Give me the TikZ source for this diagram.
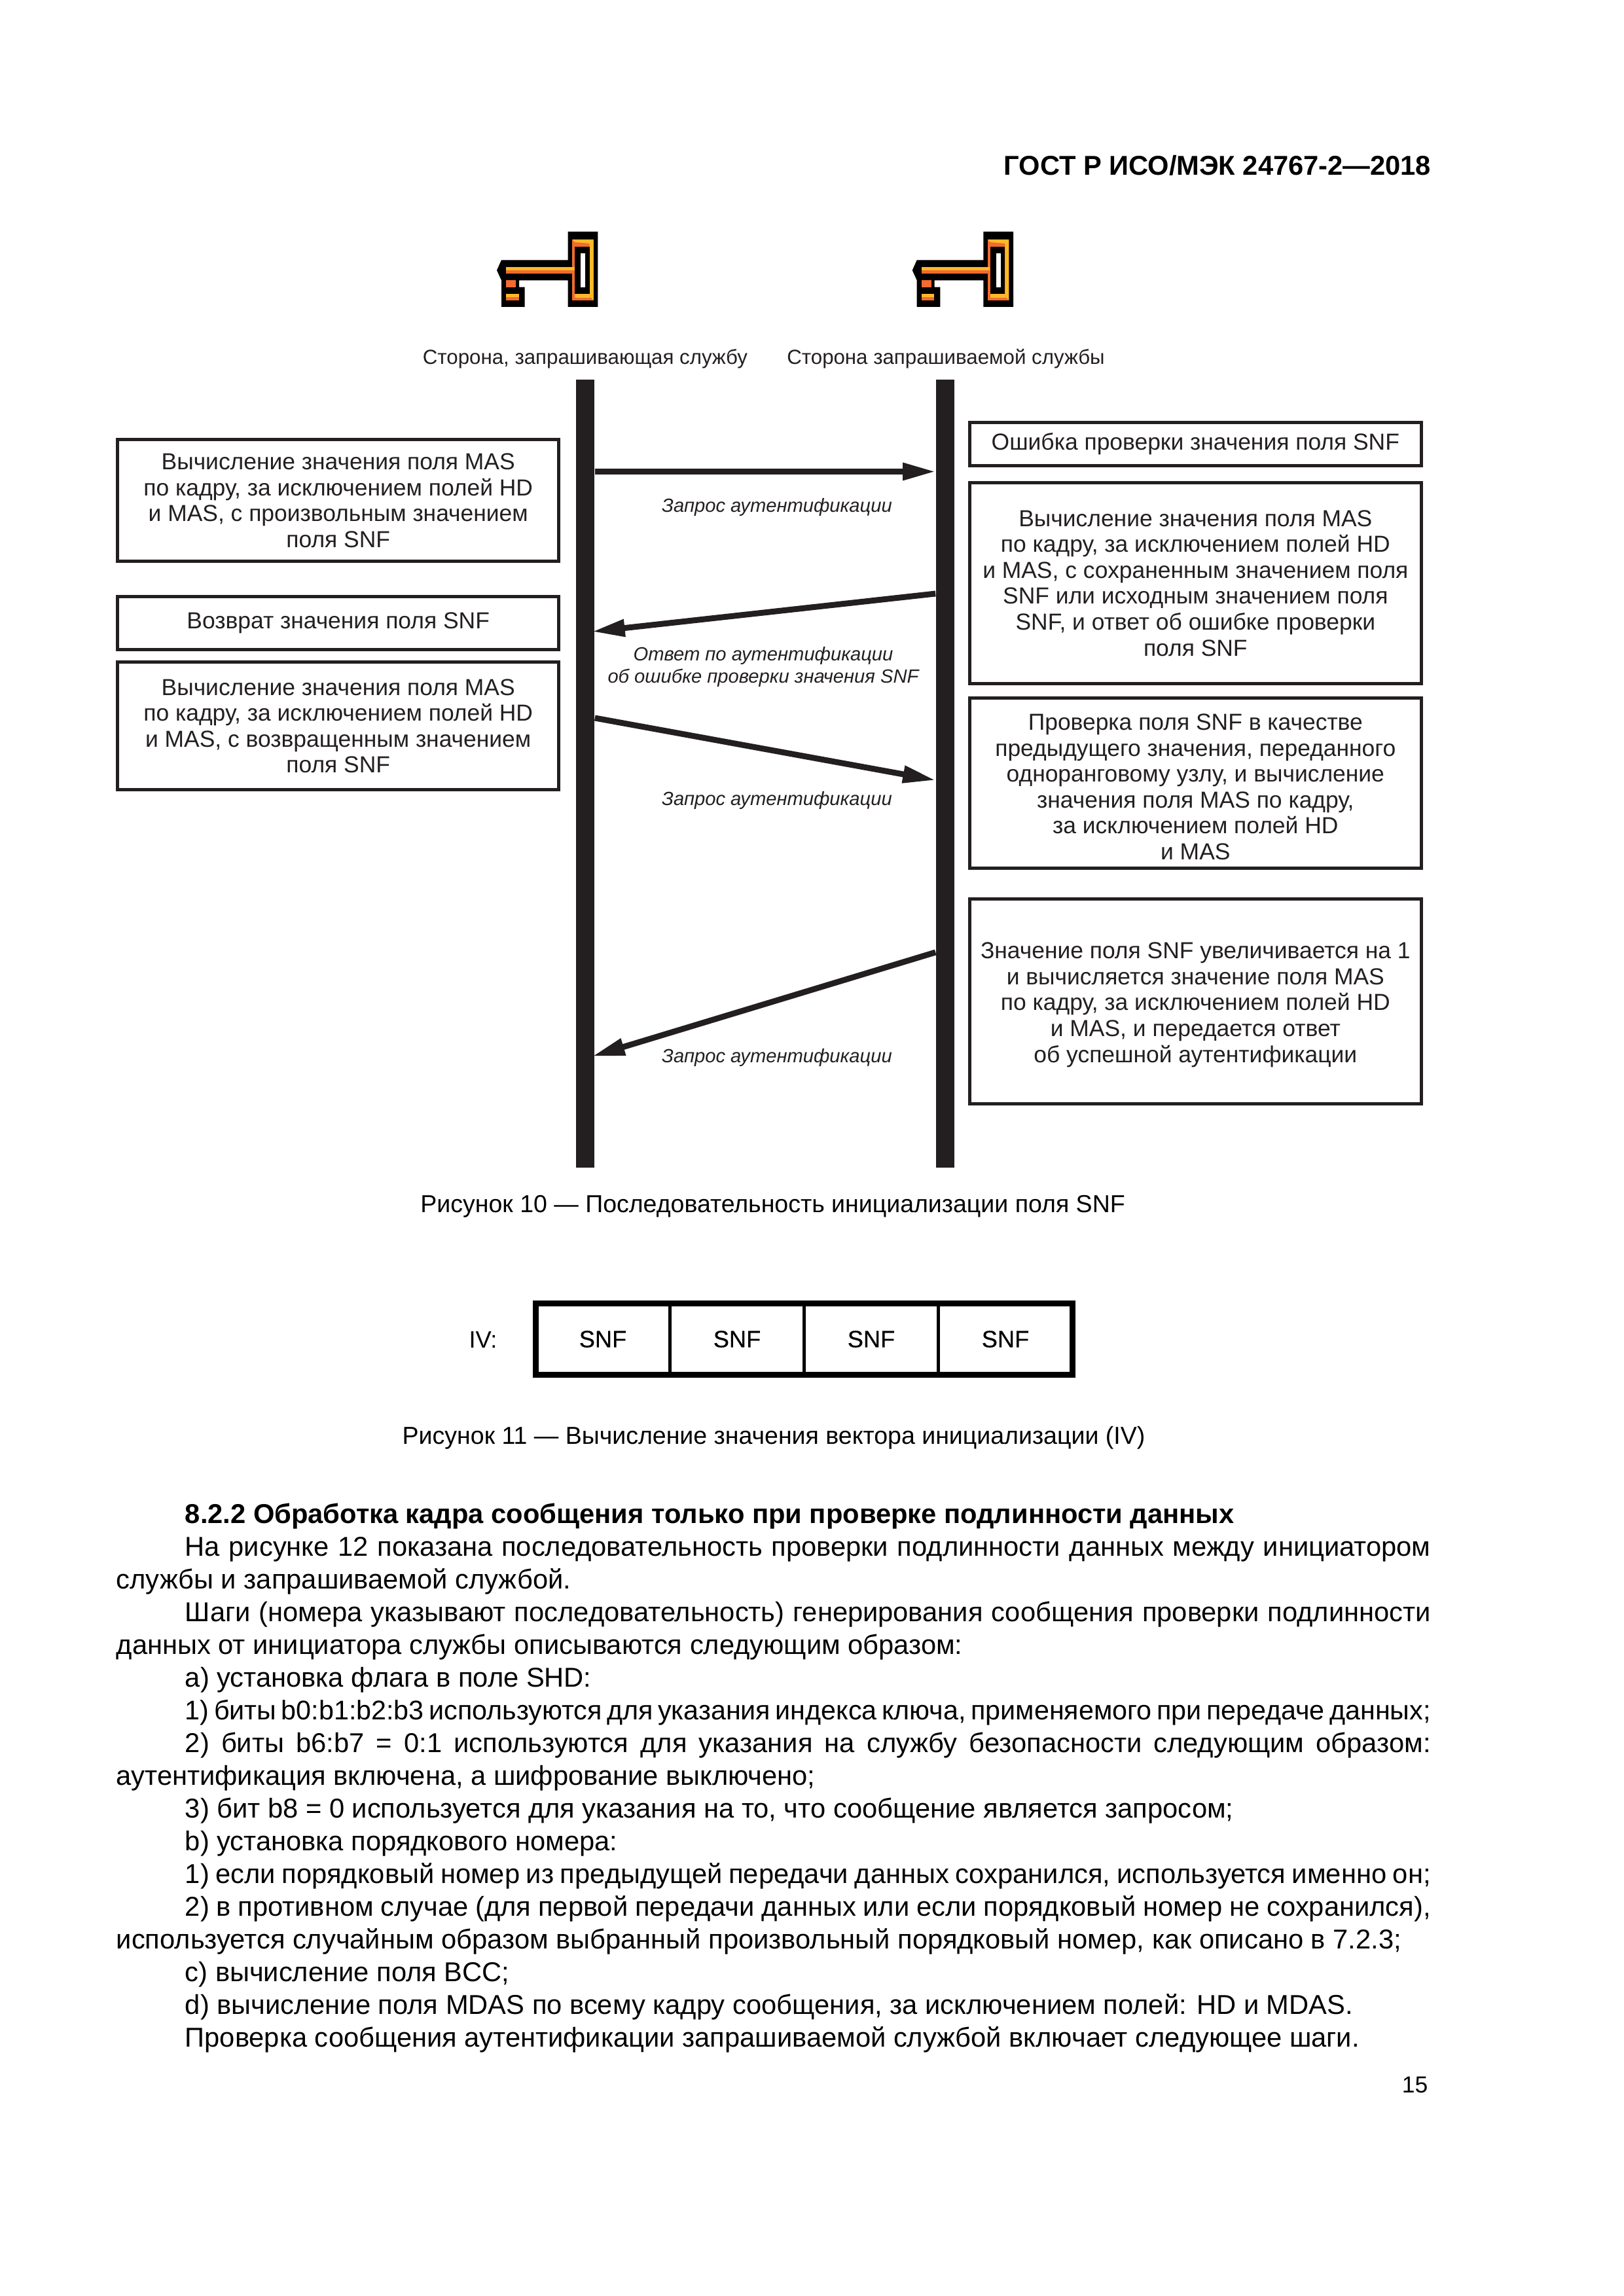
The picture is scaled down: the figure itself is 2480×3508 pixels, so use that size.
\documentclass[tikz,border=0pt]{standalone}
\usepackage{fontspec}
\setmainfont{Liberation Sans}
\newfontfamily\snffont[FakeBold=0.4]{Liberation Sans}
\usetikzlibrary{arrows.meta, positioning, calc}
\definecolor{inkdark}{HTML}{231F20}
\definecolor{keyorange}{HTML}{F26B2F}
\definecolor{keyyellow}{HTML}{FDB927}

\begin{document}
\begin{tikzpicture}[
    x=0.24pt,
    y=-0.24pt,
    stepbox/.style={
        rectangle,
        draw=inkdark,
        line width=1.2pt,
        align=center,
        inner sep=0pt,
        text=inkdark,
        font=\fontsize{8.5}{9.5}\selectfont,
    },
    leftbox/.style={stepbox, minimum width=161.9pt},
    rightbox/.style={stepbox, minimum width=165.7pt},
    lifeline/.style={
        rectangle,
        fill=inkdark,
        inner sep=0pt,
        minimum width=6.7pt,
        minimum height=288.8pt,
    },
    msgarrow/.style={
        inkdark,
        line width=2.15pt,
        -{Triangle[length=12pt, width=6pt]},
    },
    msglabel/.style={
        align=center,
        inner sep=0pt,
        text=inkdark,
        font=\fontsize{7}{8}\selectfont\itshape,
    },
    sidelabel/.style={inner sep=0pt, text=inkdark, font=\fontsize{7.5}{10}\selectfont},
    caption/.style={inner sep=0pt, font=\fontsize{9}{12}\selectfont},
    snfcell/.style={
        rectangle,
        draw=black,
        line width=1.1pt,
        inner sep=0pt,
        outer sep=0pt,
        minimum width=49.2pt,
        minimum height=26.3pt,
        font=\fontsize{8.7}{10}\selectfont\snffont,
    },
    keyicon/.pic={
        \fill[black] (0,59) -- (7,43.3) -- (108.7,43.3) -- (108.7,0) -- (154.3,0) -- (154.3,115)
            -- (108.7,115) -- (108.7,74.3) -- (34,74.3) -- (34,84.7) -- (42.7,84.7) -- (42.7,115)
            -- (7,115) -- (7,74.3) -- cycle;
        \fill[keyorange] (115.3,12) rectangle (147.7,105.3);
        \fill[keyyellow] (115.3,12) -- (147.7,12) -- (147.7,105.3) -- (141.7,98) -- (141.7,18) -- (119,16) -- cycle;
        \fill[keyyellow] (119.3,95) -- (141.7,95) -- (143,101) -- (119.3,101) -- cycle;
        \fill[black] (119.3,22.7) rectangle (141.7,95);
        \fill[white] (128.3,32.7) rectangle (135.3,84.7);
        \fill[keyyellow] (14.3,53.7) rectangle (118.7,58.7);
        \fill[keyorange] (14.3,58.7) rectangle (118.7,64);
        \fill[keyorange] (14.3,74.3) rectangle (29.3,84.7);
        \fill[keyyellow] (14.3,94.7) rectangle (33.7,99.7);
        \fill[keyorange] (14.3,99.7) rectangle (33.7,105);
    },
]

\useasboundingbox (0,0) rectangle (2480,3508);

% Page header
\node[anchor=east, inner sep=0pt, font=\fontsize{10}{12}\selectfont\bfseries] (header) at (2187,253) {ГОСТ Р ИСО/МЭК 24767-2—2018};

% Keys
\pic at (759,354) {keyicon};
\pic at (1393.7,354) {keyicon};

% Side labels
\node[sidelabel] (initlabel) at (894,548) {Сторона, запрашивающая службу};
\node[sidelabel] (resplabel) at (1445,548) {Сторона запрашиваемой службы};

% Lifelines
\node[lifeline] (initiator) at (894,1182) {};
\node[lifeline] (responder) at (1444,1182) {};

% Boxes, left column
\node[leftbox, minimum height=44.5pt] (calcfirst) at (516.7,764.7) {Вычисление значения поля MAS\\по кадру, за исключением полей HD\\и MAS, с произвольным значением\\поля SNF};
\node[leftbox, minimum height=19.4pt] (snfreturn) at (516.7,952) {Возврат значения поля SNF};
\node[leftbox, minimum height=46.9pt] (calcsecond) at (516.7,1109.2) {Вычисление значения поля MAS\\по кадру, за исключением полей HD\\и MAS, с возвращенным значением\\поля SNF};

% Boxes, right column
\node[rightbox, minimum height=15.8pt] (snferror) at (1826.3,678.5) {Ошибка проверки значения поля SNF};
\node[rightbox, minimum height=73.7pt] (calcstored) at (1826.3,891) {Вычисление значения поля MAS\\по кадру, за исключением полей HD\\и MAS, с сохраненным значением поля\\SNF или исходным значением поля\\SNF, и ответ об ошибке проверки\\поля SNF};
\node[rightbox, minimum height=62.3pt] (snfcheck) at (1826.3,1196.7) {\rule{0pt}{8.6pt}Проверка поля SNF в качестве\\предыдущего значения, переданного\\одноранговому узлу, и вычисление\\значения поля MAS по кадру,\\за исключением полей HD\\и MAS};
\node[rightbox, minimum height=75.1pt] (snfincr) at (1826.3,1530) {\rule{0pt}{8.4pt}Значение поля SNF увеличивается на 1\\и вычисляется значение поля MAS\\по кадру, за исключением полей HD\\и MAS, и передается ответ\\об успешной аутентификации};

% Arrows between lifelines
\draw[msgarrow] (initiator.east |- 0,720.5) -- (responder.west |- 0,720.5);
\draw[msgarrow] (responder.west |- 0,907) -- ([xshift=-1pt]initiator.east |- 0,965);
\draw[msgarrow] (initiator.east |- 0,1097) -- (responder.west |- 0,1192);
\draw[msgarrow] (responder.west |- 0,1455) -- ([xshift=-1pt]initiator.east |- 0,1614);

% Arrow labels
\node[msglabel] (reqone) at (1187,774.6) {Запрос аутентификации};
\node[msglabel] (errreply) at (1166,1019) {Ответ по аутентификации\\об ошибке проверки значения SNF};
\node[msglabel] (reqtwo) at (1187,1222.6) {Запрос аутентификации};
\node[msglabel] (reqthree) at (1187,1616) {Запрос аутентификации};

% Captions
\node[caption] (figten) at (1180.6,1843) {Рисунок 10 — Последовательность инициализации поля SNF};
\node[caption] (figeleven) at (1182,2197) {Рисунок 11 — Вычисление значения вектора инициализации (IV)};

% IV field
\node[inner sep=0pt, font=\fontsize{8.7}{10}\selectfont] (ivlabel) at (738,2047) {IV:};
\node[snfcell] (snfa) at (921,2046) {SNF};
\node[snfcell] (snfb) at (1126,2046) {SNF};
\node[snfcell] (snfc) at (1331,2046) {SNF};
\node[snfcell] (snfd) at (1536,2046) {SNF};
\draw[black, line width=2.25pt] (snfa.north west) rectangle (snfd.south east);

% Body text
\node[anchor=north west, inner sep=0pt, text width=481.9pt, align=justify,
      font=\fontsize{10}{12}\selectfont] (bodytext) at (177,2296) {%
\setlength{\parindent}{25.2pt}\hyphenpenalty=10000
\hspace*{\parindent}{\bfseries 8.2.2 Обработка кадра сообщения только при проверке подлинности данных}\par
На рисунке 12 показана последовательность проверки подлинности данных между инициатором\linebreak службы и запрашиваемой службой.\par
Шаги (номера указывают последовательность) генерирования сообщения проверки подлинности\linebreak данных от инициатора службы описываются следующим образом:\par
а) установка флага в поле SHD:\par
{\fontsize{9.9}{12}\selectfont\spaceskip=0.2em plus 0.1em minus 0.02em 1) биты b0:b1:b2:b3 используются для указания индекса ключа, применяемого при передаче данных;\par}
2) биты b6:b7 = 0:1 используются для указания на службу безопасности следующим образом:\linebreak аутентификация включена, а шифрование выключено;\par
3) бит b8 = 0 используется для указания на то, что сообщение является запросом;\par
b) установка порядкового номера:\par
1) если порядковый номер из предыдущей передачи данных сохранился, используется именно он;\par
2) в противном случае (для первой передачи данных или если порядковый номер не сохранился),\linebreak используется случайным образом выбранный произвольный порядковый номер, как описано в 7.2.3;\par
с) вычисление поля BCC;\par
d) вычисление поля MDAS по всему кадру сообщения, за исключением полей: HD и MDAS.\par
Проверка сообщения аутентификации запрашиваемой службой включает следующее шаги.\par
};

% Page number
\node[anchor=east, inner sep=0pt, font=\fontsize{8.5}{12}\selectfont] (pagenum) at (2182,3185) {15};

\end{tikzpicture}
\end{document}
